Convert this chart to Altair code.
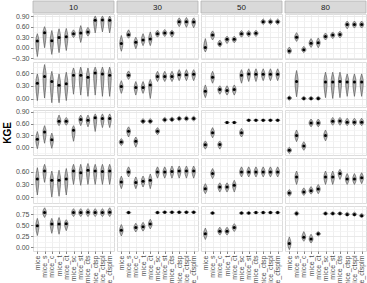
import altair as alt
import pandas as pd

cats = ['mice', 'mice_s', 'mice_c', 'mice_t', 'mice_ct', 'mice_sc', 'mice_st',
        'mice_cts', 'mice_ctsp', 'mice_ctspl', 'mice_ctsplm']
pcts = ['10', '30', '50', '80']

# ---- row 1 (per column 10/30/50/80, 11 methods each)
med_r1 = [[0.19, 0.43, 0.20, 0.29, 0.31, 0.40, 0.42, 0.45, 0.78, 0.79, 0.78],
          [0.12, 0.37, 0.16, 0.22, 0.25, 0.40, 0.42, 0.42, 0.74, 0.74, 0.73],
          [0.01, 0.36, 0.11, 0.24, 0.24, 0.40, 0.40, 0.41, 0.74, 0.74, 0.74],
          [-0.09, 0.30, -0.06, 0.13, 0.14, 0.32, 0.36, 0.38, 0.66, 0.66, 0.66]]
lo_r1 = [[-0.25, 0.00, -0.19, -0.14, -0.08, 0.29, 0.15, 0.33, 0.42, 0.45, 0.42],
         [-0.10, 0.27, -0.03, 0.06, 0.06, 0.30, 0.32, 0.30, 0.60, 0.58, 0.57],
         [-0.12, 0.22, 0.02, 0.12, 0.14, 0.30, 0.31, 0.32, 0.66, 0.66, 0.66],
         [-0.18, 0.18, -0.14, 0.01, 0.00, 0.22, 0.26, 0.28, 0.54, 0.56, 0.56]]
hi_r1 = [[0.40, 0.60, 0.49, 0.54, 0.55, 0.51, 0.63, 0.58, 0.90, 0.90, 0.90],
         [0.35, 0.51, 0.30, 0.40, 0.45, 0.50, 0.52, 0.50, 0.85, 0.86, 0.85],
         [0.26, 0.48, 0.22, 0.33, 0.33, 0.49, 0.49, 0.50, 0.82, 0.82, 0.82],
         [0.02, 0.43, 0.04, 0.26, 0.28, 0.42, 0.45, 0.47, 0.76, 0.76, 0.76]]

# ---- row 2
med_r2 = [[0.36, 0.52, 0.40, 0.31, 0.35, 0.55, 0.55, 0.50, 0.60, 0.58, 0.55],
          [0.28, 0.55, 0.26, 0.26, 0.32, 0.52, 0.52, 0.52, 0.56, 0.56, 0.57],
          [0.17, 0.50, 0.21, 0.19, 0.21, 0.55, 0.58, 0.57, 0.57, 0.57, 0.57],
          [0.01, 0.40, 0.00, 0.00, 0.00, 0.39, 0.39, 0.40, 0.39, 0.39, 0.39]]
lo_r2 = [[-0.05, 0.01, -0.10, -0.10, -0.05, 0.10, 0.08, 0.05, 0.08, 0.05, 0.05],
         [0.12, 0.45, 0.08, 0.12, 0.00, 0.40, 0.40, 0.40, 0.42, 0.42, 0.42],
         [0.02, 0.36, 0.10, 0.08, 0.08, 0.36, 0.40, 0.40, 0.42, 0.42, 0.42],
         [-0.04, 0.04, -0.04, -0.04, -0.04, 0.02, 0.00, 0.02, 0.05, 0.05, 0.05]]
hi_r2 = [[0.58, 0.80, 0.64, 0.58, 0.62, 0.72, 0.74, 0.72, 0.74, 0.74, 0.74],
         [0.42, 0.65, 0.40, 0.40, 0.45, 0.64, 0.64, 0.64, 0.68, 0.68, 0.68],
         [0.32, 0.64, 0.30, 0.30, 0.32, 0.68, 0.70, 0.70, 0.70, 0.70, 0.70],
         [0.06, 0.66, 0.05, 0.05, 0.05, 0.62, 0.62, 0.62, 0.58, 0.58, 0.58]]

# ---- row 3
med_r3 = [[0.20, 0.39, 0.19, 0.66, 0.66, 0.43, 0.71, 0.69, 0.75, 0.73, 0.73],
          [0.13, 0.41, 0.15, 0.66, 0.66, 0.41, 0.70, 0.71, 0.73, 0.73, 0.73],
          [0.06, 0.37, 0.07, 0.63, 0.63, 0.37, 0.69, 0.69, 0.69, 0.69, 0.69],
          [-0.08, 0.30, 0.03, 0.62, 0.62, 0.30, 0.66, 0.67, 0.64, 0.64, 0.64]]
lo_r3 = [[-0.04, 0.10, -0.03, 0.55, 0.56, 0.15, 0.55, 0.52, 0.40, 0.50, 0.50],
         [0.04, 0.26, 0.00, 0.60, 0.60, 0.32, 0.64, 0.65, 0.67, 0.67, 0.67],
         [-0.05, 0.24, -0.05, 0.60, 0.60, 0.26, 0.66, 0.66, 0.66, 0.66, 0.66],
         [-0.16, 0.14, -0.08, 0.52, 0.52, 0.16, 0.56, 0.56, 0.55, 0.55, 0.55]]
hi_r3 = [[0.40, 0.55, 0.36, 0.82, 0.76, 0.55, 0.82, 0.82, 0.85, 0.85, 0.85],
         [0.22, 0.52, 0.26, 0.73, 0.73, 0.50, 0.76, 0.77, 0.79, 0.79, 0.79],
         [0.16, 0.50, 0.16, 0.66, 0.66, 0.48, 0.72, 0.72, 0.72, 0.72, 0.72],
         [0.00, 0.44, 0.14, 0.72, 0.72, 0.44, 0.76, 0.76, 0.74, 0.74, 0.74]]

# ---- row 4
med_r4 = [[0.43, 0.62, 0.40, 0.40, 0.43, 0.62, 0.58, 0.64, 0.62, 0.61, 0.62],
          [0.36, 0.60, 0.35, 0.38, 0.40, 0.60, 0.60, 0.61, 0.62, 0.62, 0.62],
          [0.20, 0.56, 0.24, 0.24, 0.28, 0.60, 0.60, 0.60, 0.60, 0.60, 0.60],
          [0.10, 0.48, 0.12, 0.15, 0.19, 0.48, 0.48, 0.56, 0.43, 0.43, 0.46]]
lo_r4 = [[0.05, 0.35, 0.00, 0.02, 0.05, 0.30, 0.28, 0.30, 0.30, 0.30, 0.30],
         [0.20, 0.48, 0.20, 0.24, 0.20, 0.45, 0.45, 0.45, 0.45, 0.45, 0.45],
         [0.08, 0.44, 0.12, 0.12, 0.12, 0.48, 0.48, 0.48, 0.48, 0.48, 0.48],
         [0.02, 0.30, 0.04, 0.07, 0.08, 0.30, 0.30, 0.42, 0.30, 0.30, 0.32]]
hi_r4 = [[0.70, 0.78, 0.62, 0.64, 0.68, 0.78, 0.78, 0.80, 0.78, 0.78, 0.78],
         [0.50, 0.72, 0.48, 0.50, 0.55, 0.72, 0.72, 0.74, 0.74, 0.74, 0.74],
         [0.32, 0.68, 0.34, 0.34, 0.40, 0.72, 0.72, 0.72, 0.72, 0.72, 0.72],
         [0.18, 0.62, 0.22, 0.25, 0.30, 0.62, 0.62, 0.66, 0.56, 0.56, 0.58]]

# ---- row 5
med_r5 = [[0.49, 0.79, 0.53, 0.53, 0.54, 0.79, 0.79, 0.80, 0.79, 0.79, 0.80],
          [0.39, 0.79, 0.45, 0.47, 0.53, 0.79, 0.80, 0.80, 0.80, 0.80, 0.80],
          [0.31, 0.78, 0.37, 0.37, 0.45, 0.78, 0.78, 0.79, 0.79, 0.79, 0.79],
          [0.09, 0.77, 0.23, 0.19, 0.31, 0.77, 0.77, 0.77, 0.75, 0.75, 0.72]]
lo_r5 = [[0.27, 0.68, 0.32, 0.30, 0.38, 0.70, 0.70, 0.70, 0.70, 0.70, 0.70],
         [0.26, 0.76, 0.35, 0.37, 0.42, 0.76, 0.77, 0.77, 0.77, 0.77, 0.77],
         [0.18, 0.75, 0.28, 0.28, 0.36, 0.75, 0.75, 0.76, 0.76, 0.76, 0.76],
         [-0.05, 0.72, 0.14, 0.10, 0.26, 0.73, 0.73, 0.73, 0.71, 0.71, 0.68]]
hi_r5 = [[0.66, 0.90, 0.66, 0.68, 0.63, 0.88, 0.88, 0.88, 0.88, 0.88, 0.90],
         [0.52, 0.82, 0.55, 0.57, 0.64, 0.82, 0.83, 0.83, 0.83, 0.83, 0.83],
         [0.44, 0.81, 0.46, 0.46, 0.54, 0.81, 0.81, 0.82, 0.82, 0.82, 0.82],
         [0.24, 0.82, 0.36, 0.30, 0.36, 0.81, 0.81, 0.81, 0.80, 0.80, 0.77]]

y_domains = [(-0.32, 0.96), (-0.20, 0.86), (-0.20, 0.95), (-0.14, 0.93), (-0.08, 0.94)]
y_major = [[-0.3, 0.0, 0.3, 0.6, 0.9], [0.0, 0.3, 0.6], [0.0, 0.3, 0.6, 0.9],
           [0.0, 0.3, 0.6], [0.0, 0.25, 0.5, 0.75]]
y_minor = [[-0.15, 0.15, 0.45, 0.75], [-0.15, 0.15, 0.45, 0.75], [-0.15, 0.15, 0.45, 0.75],
           [-0.15, 0.15, 0.45, 0.75], [0.125, 0.375, 0.625, 0.875]]

MED = [med_r1, med_r2, med_r3, med_r4, med_r5]
LO = [lo_r1, lo_r2, lo_r3, lo_r4, lo_r5]
HI = [hi_r1, hi_r2, hi_r3, hi_r4, hi_r5]

W, H = 81, 45
FONT = 'Liberation Sans'
FILL = '#b3b3b3'
EDGE = '#4d4d4d'
xs = alt.Scale(domain=[-0.6, len(cats) - 0.4], nice=False, zero=False)
cat_expr = '[' + ','.join("'%s'" % c for c in cats) + '][datum.value]'


def half_width(lo, hi, ppu):
    hpx = (hi - lo) * ppu
    return 0.22 + 0.14 * max(0.0, 1 - hpx / 14.0)


def panel(r, c):
    dom = y_domains[r]
    ppu = H / (dom[1] - dom[0])
    med, lo, hi = MED[r][c], LO[r][c], HI[r][c]
    poly, pts = [], []
    for i in range(len(cats)):
        w = half_width(lo[i], hi[i], ppu)
        for v, ww in ((lo[i], 0.0), (med[i], w), (hi[i], 0.0)):
            poly.append({'i': i, 'v': v, 'xl': i - ww, 'xr': i + ww})
        pts.append({'i': i, 'v': med[i]})
    poly = pd.DataFrame(poly)
    pts = pd.DataFrame(pts)

    last = (r == 4)
    xaxis = alt.Axis(values=list(range(len(cats))), grid=True, gridColor='#ebebeb',
                     gridWidth=0.8, domain=False, title=None,
                     labels=last, ticks=last, labelExpr=cat_expr, labelAngle=-90,
                     labelFontSize=7, labelColor='#4d4d4d', labelPadding=1.5,
                     labelOverlap=False, labelFlush=False, tickSize=2.5,
                     tickColor='#333333', tickWidth=0.6)
    vals = sorted([v for v in y_major[r] + y_minor[r] if dom[0] <= v <= dom[1]])
    maj = '[' + ','.join(str(int(round(v * 1000))) for v in y_major[r]) + ']'
    test = 'indexof(%s, round(datum.value*1000)) >= 0' % maj
    first = (c == 0)
    yaxis = alt.Axis(values=vals, grid=True,
                     gridColor={'condition': {'test': test, 'value': '#e4e4e4'}, 'value': '#f2f2f2'},
                     gridWidth=0.8, domain=False,
                     title=('KGE' if (first and r == 2) else None),
                     titleFontSize=10, titleFontWeight='bold', titleColor='#000000',
                     titlePadding=3,
                     labels=first, ticks=first,
                     tickOpacity={'condition': {'test': test, 'value': 1}, 'value': 0},
                     labelExpr="%s ? format(datum.value, '.2f') : ''" % test,
                     labelFontSize=7, labelColor='#4d4d4d', labelPadding=1.5,
                     labelFlush=False, labelOverlap=False, tickSize=2.5,
                     tickColor='#333333', tickWidth=0.6)
    ys = alt.Scale(domain=list(dom), nice=False, zero=False)

    area = alt.Chart(poly).mark_area(
        orient='horizontal', interpolate='monotone', fill=FILL, stroke=EDGE,
        strokeWidth=0.6, opacity=1
    ).encode(
        x=alt.X('xl:Q', scale=xs, axis=xaxis),
        x2='xr:Q',
        y=alt.Y('v:Q', scale=ys, axis=yaxis),
        detail='i:N',
    )
    dots = alt.Chart(pts).mark_point(filled=True, color='black', size=9, opacity=1).encode(
        x=alt.X('i:Q', scale=xs, axis=xaxis),
        y=alt.Y('v:Q', scale=ys, axis=yaxis),
    )
    layers = [area, dots]
    if r == 0:
        lab = pd.DataFrame({'lab': [pcts[c]]})
        strip = alt.Chart(lab).mark_rect(fill='#d9d9d9', stroke='#b3b3b3', strokeWidth=0.8).encode(
            x=alt.value(0), x2=alt.value(W), y=alt.value(-13), y2=alt.value(-1))
        txt = alt.Chart(lab).mark_text(fontSize=8, color='#1a1a1a', font=FONT,
                                       baseline='middle', align='center').encode(
            x=alt.value(W / 2), y=alt.value(-6.5), text='lab:N')
        layers += [strip, txt]
    return alt.layer(*layers).properties(width=W, height=H)


panels = [panel(r, c) for r in range(5) for c in range(4)]
chart = alt.concat(*panels, columns=4, spacing=3, bounds='flush').resolve_scale(
    x='independent', y='independent'
).properties(
    padding={'left': 1, 'top': 0, 'right': 0, 'bottom': 0}
).configure_view(
    stroke='#b8b8b8', strokeWidth=0.8, fill='white'
).configure_axis(
    labelOverlap=False
).configure(font=FONT, background='white')

chart.save('out.html', embed_options={'renderer': 'svg', 'actions': False})
